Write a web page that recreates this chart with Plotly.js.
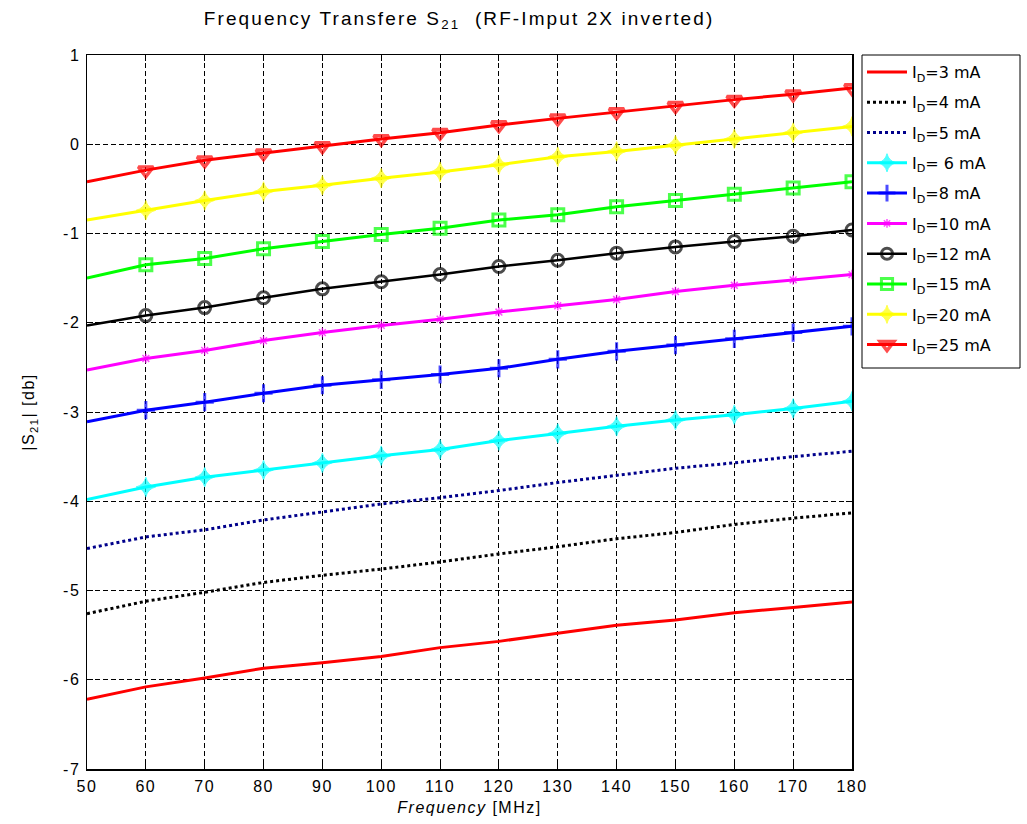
<!DOCTYPE html>
<html>
<head>
<meta charset="utf-8">
<script src="https://cdn.plot.ly/plotly-3.0.1.min.js"></script>
<style>
html,body{margin:0;padding:0;background:#fff;}
#chart{width:1027px;height:824px;}
#chart .gtitle{letter-spacing:2.1px;}
#chart .xtick text, #chart .ytick text{letter-spacing:1.5px;}
#chart .xtitle, #chart .ytitle{letter-spacing:1.5px;}
</style>
</head>
<body>
<div id="chart"></div>
<script>
const freq = [50,60,70,80,90,100,110,120,130,140,150,160,170,180];
const id3  = [-6.22,-6.08,-5.98,-5.87,-5.81,-5.74,-5.64,-5.57,-5.48,-5.39,-5.33,-5.25,-5.19,-5.13];
const id4  = [-5.26,-5.12,-5.02,-4.91,-4.83,-4.76,-4.68,-4.59,-4.51,-4.42,-4.35,-4.26,-4.19,-4.13];
const id5  = [-4.53,-4.40,-4.32,-4.21,-4.12,-4.03,-3.96,-3.88,-3.79,-3.71,-3.63,-3.57,-3.50,-3.44];
const id6  = [-3.98,-3.84,-3.73,-3.65,-3.57,-3.49,-3.42,-3.32,-3.24,-3.16,-3.09,-3.03,-2.96,-2.88];
const id8  = [-3.11,-2.98,-2.89,-2.79,-2.70,-2.64,-2.58,-2.51,-2.41,-2.32,-2.25,-2.18,-2.11,-2.04];
const id10 = [-2.53,-2.40,-2.31,-2.20,-2.11,-2.03,-1.96,-1.88,-1.81,-1.74,-1.65,-1.58,-1.52,-1.46];
const id12 = [-2.03,-1.92,-1.83,-1.72,-1.62,-1.54,-1.46,-1.37,-1.30,-1.22,-1.15,-1.09,-1.03,-0.96];
const id15 = [-1.50,-1.35,-1.28,-1.17,-1.09,-1.01,-0.94,-0.85,-0.79,-0.70,-0.63,-0.56,-0.49,-0.42];
const id20 = [-0.85,-0.74,-0.63,-0.53,-0.46,-0.38,-0.31,-0.23,-0.14,-0.08,-0.01,0.06,0.13,0.20];
const id25 = [-0.42,-0.29,-0.18,-0.10,-0.02,0.06,0.13,0.215,0.29,0.36,0.43,0.50,0.56,0.63];
const seriesNames = ['I<sub>D</sub>=3 mA','I<sub>D</sub>=4 mA','I<sub>D</sub>=5 mA','I<sub>D</sub>= 6 mA','I<sub>D</sub>=8 mA','I<sub>D</sub>=10 mA','I<sub>D</sub>=12 mA','I<sub>D</sub>=15 mA','I<sub>D</sub>=20 mA','I<sub>D</sub>=25 mA'];
const xTicks = [50,60,70,80,90,100,110,120,130,140,150,160,170,180];
const yTicks = [1,0,-1,-2,-3,-4,-5,-6,-7];

const values = [id3,id4,id5,id6,id8,id10,id12,id15,id20,id25];
const styles = [
  {color:'#ff0000', dash:'solid', width:3, symbol:null},
  {color:'#000000', dash:'dot', width:3, symbol:null},
  {color:'#00008b', dash:'dot', width:3, symbol:null},
  {color:'#00ffff', dash:'solid', width:3, symbol:'star-diamond', size:14, lw:1},
  {color:'#0000ff', dash:'solid', width:3, symbol:'cross-thin-open', size:13, lw:3},
  {color:'#ff00ff', dash:'solid', width:3, symbol:'asterisk-open', size:8, lw:1.5},
  {color:'#000000', dash:'solid', width:2.5, symbol:'circle-open', size:12, lw:3},
  {color:'#00ff00', dash:'solid', width:3, symbol:'square-open', size:12, lw:3},
  {color:'#ffff00', dash:'solid', width:3, symbol:'star-diamond', size:14, lw:1},
  {color:'#ff0000', dash:'solid', width:3, symbol:'triangle-down-open', size:13, lw:3.5}
];

const traces = values.map((v,i)=>{
  const s = styles[i];
  const t = {
    x: freq, y: v, name: seriesNames[i], type:'scatter', legendgroup:'g'+i,
    mode: s.symbol ? 'lines+markers' : 'lines',
    line: {color:s.color, dash:s.dash, width:s.width}
  };
  if (s.symbol) {
    t.marker = {symbol:s.symbol, color:s.color, size: freq.map((f,j)=> j===0 ? 0 : s.size), line:{color:s.color, width:s.lw}};
  }
  return t;
});

const FF = 'Liberation Sans, Arial, sans-serif';
const axisFont = {family:FF, size:16, color:'#000'};
const px2x = p => (p-87)/765;
const px2y = p => (769-p)/714;
const layout = {
  width:1027, height:824,
  paper_bgcolor:'#fff', plot_bgcolor:'#fff',
  margin:{l:87, r:175, t:55, b:55},
  showlegend:true,
  title:{text:'Frequency Transfere S<sub>21</sub>  (RF-Imput 2X inverted)', font:{family:FF, size:19, color:'#000'}, xref:'container', x:0.447, xanchor:'center', yref:'container', y:0.978, yanchor:'middle'},
  xaxis:{range:[50,180], tickvals:xTicks, ticktext:xTicks.map(String), tickfont:axisFont, ticklabelstandoff:2,
    showgrid:true, gridcolor:'#000', griddash:'5px,3px', gridwidth:1,
    showline:true, linecolor:'#000', linewidth:1.5, mirror:'ticks', ticks:'inside', ticklen:6, tickcolor:'#000',
    zeroline:false,
    title:{text:'<i>Frequency</i> [MHz]', font:{family:FF, size:16, color:'#000'}, standoff:8}},
  yaxis:{range:[-7,1], tickvals:yTicks, ticktext:yTicks.map(String), tickfont:axisFont, ticklabelstandoff:2,
    showgrid:true, gridcolor:'#000', griddash:'5px,3px', gridwidth:1,
    showline:true, linecolor:'#000', linewidth:1.5, mirror:'ticks', ticks:'inside', ticklen:6, tickcolor:'#000',
    zeroline:false,
    title:{text:'|S<sub>21</sub>| [db]', font:{family:FF, size:16, color:'#000'}, standoff:27}},
  legend:{x:px2x(862), xanchor:'left', y:1, yanchor:'top', bgcolor:'rgba(0,0,0,0)', borderwidth:0,
    font:{family:'DejaVu Sans, sans-serif', size:16, color:'#000'}, tracegroupgap:6.5, itemwidth:40},
  shapes:[{type:'rect', xref:'paper', yref:'paper', x0:px2x(862), x1:px2x(1020), y0:px2y(368), y1:px2y(55),
    line:{color:'#000', width:1}, fillcolor:'rgba(0,0,0,0)', layer:'below'}]
};

Plotly.newPlot('chart', traces, layout, {displayModeBar:false, staticPlot:true});
</script>
</body>
</html>
